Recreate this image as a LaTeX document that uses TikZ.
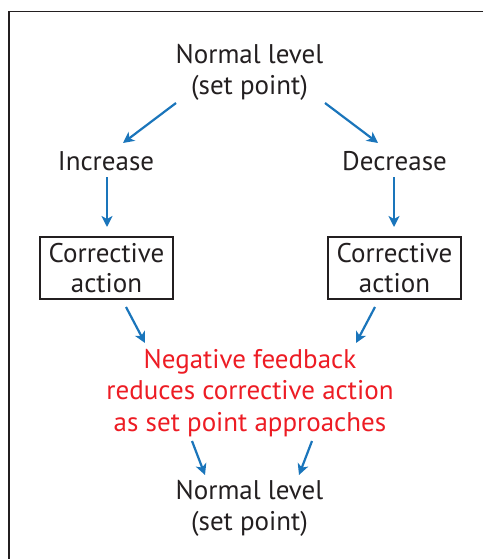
\documentclass[tikz,border=0pt]{standalone}
\usepackage{fontspec}
\setmainfont{PT Sans}
\usetikzlibrary{arrows.meta}
\definecolor{txt}{HTML}{231F20}
\definecolor{arrblue}{HTML}{1A75BB}
\definecolor{fbred}{HTML}{ED1C24}
\begin{document}
\begin{tikzpicture}[x=1pt,y=-1pt,
  lbl/.style={inner sep=0pt, align=center, text=txt, font=\fontsize{27}{31}\selectfont},
  redlbl/.style={inner sep=0pt, align=center, text=fbred, font=\fontsize{27}{31.5}\selectfont},
  cbox/.style={draw=txt, line width=2.4pt, minimum width=133pt, minimum height=62pt, inner sep=0pt, align=center, text=txt, font=\fontsize{27}{30}\selectfont},
  arr/.style={draw=arrblue, line width=2.2pt, -{Stealth[length=11pt,width=11pt,inset=3pt]}}]
\useasboundingbox (0,0) rectangle (483,559);
\draw[txt, line width=1.4pt] (483,11.5) -- (9,11.5) -- (9,559);
\node[lbl] (top) at (249.5,72) {Normal level\\(set point)};
\node[lbl, anchor=base] (inc) at (106,170) {Increase};
\node[lbl, anchor=base] (dec) at (394.5,170) {Decrease};
\node[cbox] (cl) at (106.5,268) {Corrective\\action};
\node[cbox] (cr) at (394.5,268) {Corrective\\action};
\node[redlbl] (neg) at (250,393) {Negative feedback\\reduces corrective action\\as set point approaches};
\node[lbl] (bot) at (249.5,508) {Normal level\\(set point)};
\draw[arr] ([shift={(-73.5,31)}]top.center) -- ([shift={(17,-27)}]inc.base);
\draw[arr] ([shift={(75.5,31)}]top.center) -- ([shift={(-16.5,-27)}]dec.base);
\draw[arr] ([shift={(1,7)}]inc.base) -- ([shift={(0.5,-41)}]cl.center);
\draw[arr] ([shift={(-0.5,7)}]dec.base) -- ([shift={(-0.5,-41)}]cr.center);
\draw[arr] ([shift={(19.5,39)}]cl.center) -- ([shift={(-105,-50)}]neg.center);
\draw[arr] ([shift={(-19.5,39)}]cr.center) -- ([shift={(106,-50)}]neg.center);
\draw[arr] ([shift={(-58,48)}]neg.center) -- ([shift={(-44.5,-33)}]bot.center);
\draw[arr] ([shift={(62,48)}]neg.center) -- ([shift={(49.5,-33)}]bot.center);
\end{tikzpicture}
\end{document}
